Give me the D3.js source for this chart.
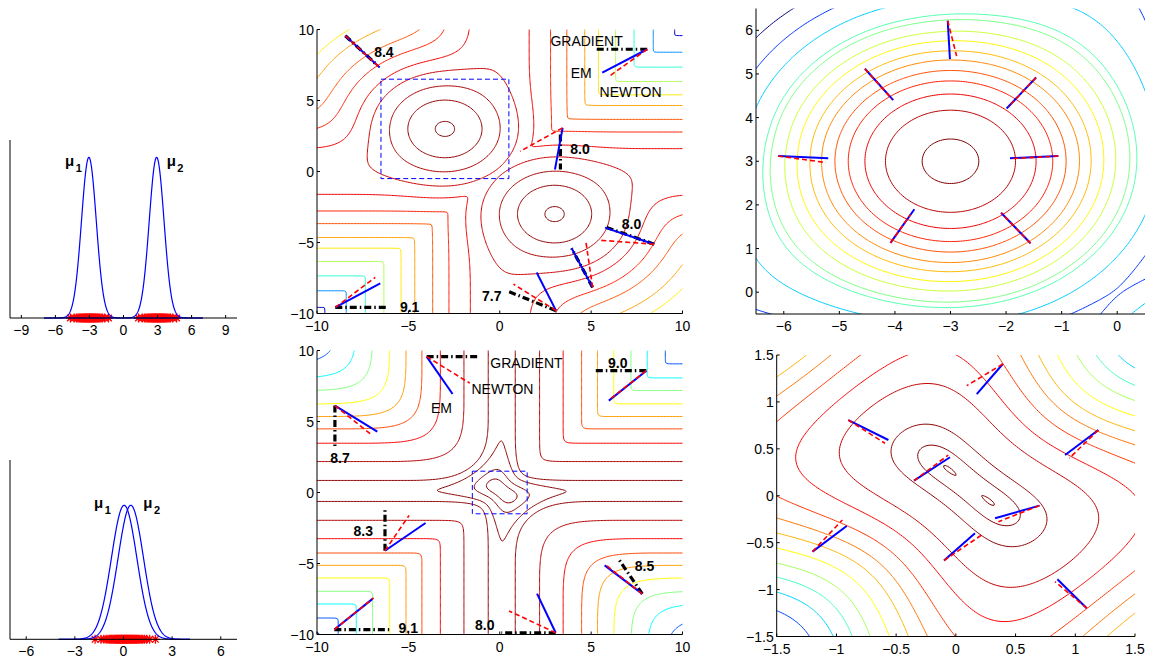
<!DOCTYPE html>
<html>
<head>
<meta charset="utf-8">
<script src="https://cdn.jsdelivr.net/npm/d3@7"></script>
<style>
  body { margin: 0; background: #fff; }
  svg { font-family: "Liberation Sans", Arial, sans-serif; }
</style>
</head>
<body>
<svg id="fig" width="1151" height="660"></svg>
<script>
// ---- data ----
const topData = [-4.68,-4.34,-4.15,-4.02,-3.91,-3.82,-3.74,-3.67,-3.60,-3.54,-3.48,-3.42,-3.37,-3.31,-3.26,-3.21,-3.17,-3.12,-3.07,-3.02,
  -2.98,-2.93,-2.88,-2.83,-2.79,-2.74,-2.69,-2.63,-2.58,-2.52,-2.46,-2.40,-2.33,-2.26,-2.18,-2.09,-1.98,-1.85,-1.66,-1.32,
  1.32,1.66,1.85,1.98,2.09,2.18,2.26,2.33,2.40,2.46,2.52,2.58,2.63,2.69,2.74,2.79,2.83,2.88,2.93,2.98,
  3.02,3.07,3.12,3.17,3.21,3.26,3.31,3.37,3.42,3.48,3.54,3.60,3.67,3.74,3.82,3.91,4.02,4.15,4.34,4.68];
const bottomData = [-1.75,-1.39,-1.21,-1.07,-0.96,-0.87,-0.79,-0.72,-0.65,-0.59,-0.53,-0.48,-0.43,-0.38,-0.33,-0.29,-0.24,-0.20,-0.16,-0.11,
  -0.07,-0.03,0.01,0.05,0.09,0.13,0.17,0.21,0.25,0.29,0.33,0.38,0.42,0.46,0.51,0.55,0.60,0.65,0.70,0.75,
  0.81,0.87,0.94,1.01,1.09,1.18,1.29,1.43,1.61,1.97];
const topMeans = [-3.05, 2.92];
const bottomMeans = [0.04, 0.45];
const topSigma = 0.65;
const bottomSigma = 0.785;
const bottomSplit = 0.16;        // sets the width of the lower-panel likelihood: sqrt(var - split^2)
const topCurveRange = [-7, 7];
const bottomCurveRange = [-4, 4.1];

const topDensTicks = [-9, -6, -3, 0, 3, 6, 9];
const bottomDensTicks = [-6, -3, 0, 3, 6];
const wideTicks = [-10, -5, 0, 5, 10];
const trXTicks = [-6, -5, -4, -3, -2, -1, 0];
const trYTicks = [0, 1, 2, 3, 4, 5, 6];
const brTicks = [-1.5, -1, -0.5, 0, 0.5, 1, 1.5];

// points (mu1, mu2) through which a contour line passes
const tmAnchors = [[-3.53,3],[-5.03,3],[-6.03,3],[-7.09,3],[-9.95,-1.61],[-9.95,-2.78],[-9.95,-3.67],[-9.95,-4.65],
  [-9.95,-5.40],[-9.95,-6.34],[-9.95,-7.35],[-9.95,-8.40],[-9.95,-9.57]];
const trAnchors = [[-3.51,3],[-4.17,3],[-4.54,3],[-4.84,3],[-5.08,3],[-5.32,3],[-5.53,3],[-5.76,3],[-5.98,3],[-6.24,3],
  [-3,6.37],[-4.36,6.45],[-5.20,6.45],[-5.89,6.45]];
const bmAnchors = [[-0.73,0.50],[-1.37,0.545],[-3.3,0.05],[-9.9,0.85],[-9.9,-1.96],[-9.9,-3.25],[-9.9,-4.26],[-9.9,-5.13],
  [-9.9,-6.02],[-9.9,-6.96],[-9.9,-7.85],[-9.9,-8.84],[-9.93,-9.9]];
const brAnchors = [[-0.095,0.29],[-0.30,0.346],[-0.543,0.47],[-0.976,0.47],[-1.338,0.363],[-1.49,-0.01],[-1.49,-0.24],
  [-1.49,-0.40],[-1.49,-0.56],[-1.49,-0.72],[-1.49,-0.87],[-1.49,-1.03],[-1.49,-1.23]];

// direction segments [mu1 start, mu2 start, mu1 end, mu2 end]
const tmGradient = [[-8.45,9.56,-6.8,7.6],[8.07,8.61,5.15,8.61],[3.32,2.6,3.32,0.14],[8.45,-5.12,5.76,-3.9],
  [5.08,-8.16,3.93,-5.40],[3.08,-9.80,0.38,-8.40],[-9.0,-9.57,-6.08,-9.57]];
const tmEM = [[-8.45,9.56,-6.57,7.32],[8.07,8.61,5.61,6.97],[3.44,3.07,3.02,0.14],[8.45,-5.12,5.76,-3.95],
  [5.08,-8.16,3.93,-5.40],[3.08,-9.80,2.02,-7.11],[-9.0,-9.57,-6.54,-7.88]];
const tmNewton = [[-8.45,9.56,-6.6,7.35],[8.07,8.61,5.97,6.69],[3.44,3.07,1.11,1.42],[8.45,-5.12,5.48,-4.84],
  [5.08,-8.16,4.72,-5.0],[3.08,-9.80,0.75,-7.93],[-9.0,-9.57,-6.81,-7.46]];
const tmValues = [["8.4",-6.34,8.44],["8.0",4.39,1.61],["8.0",7.21,-3.72],["7.7",-0.44,-8.75],["9.1",-4.93,-9.57]];
const tmNames = [["GRADIENT",4.75,9.19],["EM",4.46,6.93],["NEWTON",7.16,5.59]];

const bmGradient = [[-4.0,9.57,-1.09,9.57],[8.02,8.58,5.10,8.58],[-9.02,6.12,-9.02,3.24],[-6.28,-4.10,-6.28,-1.16],
  [7.80,-7.14,6.46,-4.61],[-9.05,-9.65,-6.05,-9.65],[3.06,-9.88,0.09,-9.88]];
const bmEM = [[-4.0,9.57,-2.58,6.94],[8.02,8.58,5.97,6.47],[-9.02,6.12,-6.70,4.29],[-6.28,-4.10,-4.06,-2.15],
  [7.80,-7.14,5.74,-5.13],[-9.05,-9.65,-6.96,-7.49],[3.06,-9.88,2.04,-7.12]];
const bmNewton = [[-4.0,9.57,-1.64,7.70],[8.02,8.58,6.10,6.64],[-9.02,6.12,-7.01,4.06],[-6.28,-4.10,-4.96,-1.61],
  [7.80,-7.14,5.80,-5.10],[-9.05,-9.65,-6.9,-7.42],[3.06,-9.88,0.51,-8.34]];
const bmValues = [["9.0",6.46,9.10],["8.7",-8.74,2.42],["8.3",-7.47,-2.74],["8.5",7.92,-5.20],["9.1",-5.01,-9.53],["8.0",-0.82,-9.30]];
const bmNames = [["GRADIENT",1.46,9.15],["NEWTON",0.15,7.28],["EM",-3.19,5.94]];

const trEM = [[-3.05,6.22,-3.01,5.34],[-4.54,5.12,-4.03,4.40],[-1.46,4.92,-1.99,4.21],[-6.10,3.12,-5.2,3.07],
  [-1.06,3.12,-1.93,3.07],[-4.08,1.13,-3.65,1.90],[-1.56,1.12,-2.09,1.82]];
const trNewton = [[-3.05,6.22,-2.89,5.41],[-4.54,5.12,-4.05,4.42],[-1.46,4.92,-1.96,4.24],[-6.10,3.12,-5.24,2.97],
  [-1.06,3.12,-1.90,3.06],[-4.08,1.13,-3.72,1.78],[-1.56,1.12,-2.09,1.82]];
const brEM = [[0.393,1.404,0.175,1.084],[-0.90,0.807,-0.565,0.594],[-0.35,0.161,-0.049,0.41],[1.193,0.70,0.915,0.434],
  [0.70,-0.105,0.328,-0.24],[-1.2,-0.595,-0.914,-0.322],[-0.099,-0.69,0.16,-0.40],[1.096,-1.198,0.85,-0.89]];
const brNewton = [[0.393,1.404,0.091,1.173],[-0.90,0.807,-0.593,0.559],[-0.35,0.161,-0.063,0.434],[1.193,0.70,0.95,0.40],
  [0.70,-0.105,0.356,-0.276],[-1.2,-0.595,-0.95,-0.258],[-0.099,-0.69,0.217,-0.417],[1.096,-1.198,0.83,-0.915]];

// ---- helpers ----
const svg = d3.select("#fig");
const fmt = v => String(v).replace("-", "\u2212");

function jet(t) {
  t = Math.max(0, Math.min(1, t));
  const c = v => Math.round(255 * Math.max(0, Math.min(1, v)));
  return `rgb(${c(1.5 - Math.abs(4 * t - 3))},${c(1.5 - Math.abs(4 * t - 2))},${c(1.5 - Math.abs(4 * t - 1))})`;
}

// mean log-likelihood of a two-component, equal-weight 1-D mixture
function logLik(data, sigma) {
  const s2 = 2 * sigma * sigma;
  return (m1, m2) => {
    let sum = 0;
    for (const x of data) {
      const a = -(x - m1) * (x - m1) / s2, b = -(x - m2) * (x - m2) / s2;
      const m = Math.max(a, b);
      sum += m + Math.log(Math.exp(a - m) + Math.exp(b - m));
    }
    return sum / data.length;
  };
}

function axes(g, xs, ys, xTicks, yTicks, showYLine) {
  const [xa, xb] = xs.range();
  const [yb, ya] = ys.range();
  g.append("line").attr("x1", xa).attr("x2", xb).attr("y1", yb).attr("y2", yb).attr("stroke", "#000");
  if (showYLine) g.append("line").attr("x1", xa).attr("x2", xa).attr("y1", yb).attr("y2", ya).attr("stroke", "#000");
  g.selectAll(null).data(xTicks).enter().append("line")
    .attr("x1", d => xs(d)).attr("x2", d => xs(d)).attr("y1", yb).attr("y2", yb - 3).attr("stroke", "#000");
  g.selectAll(null).data(xTicks).enter().append("text")
    .attr("x", d => xs(d)).attr("y", yb + 17).attr("text-anchor", "middle")
    .attr("font-size", 14).text(fmt);
  g.selectAll(null).data(yTicks).enter().append("line")
    .attr("x1", xa).attr("x2", xa + 3).attr("y1", d => ys(d)).attr("y2", d => ys(d)).attr("stroke", "#000");
  g.selectAll(null).data(yTicks).enter().append("text")
    .attr("x", xa - 3).attr("y", d => ys(d) + 5).attr("text-anchor", "end")
    .attr("font-size", 14).text(fmt);
}

function segments(g, xs, ys, segs, color, width, dash) {
  g.selectAll(null).data(segs).enter().append("line")
    .attr("x1", d => xs(d[0])).attr("y1", d => ys(d[1]))
    .attr("x2", d => xs(d[2])).attr("y2", d => ys(d[3]))
    .attr("stroke", color).attr("stroke-width", width)
    .attr("stroke-dasharray", dash);
}

let clipId = 0;
function contourPanel(o) {
  const xs = d3.scaleLinear().domain(o.xDomain).range(o.xRange);
  const ys = d3.scaleLinear().domain(o.yDomain).range(o.yRange);
  const g = svg.append("g");
  const step = o.step;
  const gx0 = o.xDomain[0] - 2 * step, gy0 = o.yDomain[0] - 2 * step;
  const nx = Math.ceil((o.xDomain[1] - o.xDomain[0]) / step) + 5;
  const ny = Math.ceil((o.yDomain[1] - o.yDomain[0]) / step) + 5;
  const N = nx + 2, M = ny + 2;
  const values = new Array(N * M).fill(-1e9);
  let vmin = Infinity, vmax = -Infinity;
  for (let j = 0; j < ny; j++) {
    for (let i = 0; i < nx; i++) {
      const mx = gx0 + i * step, my = gy0 + j * step;
      const v = o.f(mx, my);
      values[(j + 1) * N + i + 1] = v;
      if (mx >= o.xDomain[0] && mx <= o.xDomain[1] && my >= o.yDomain[0] && my <= o.yDomain[1]) {
        if (v < vmin) vmin = v;
        if (v > vmax) vmax = v;
      }
    }
  }
  const levels = o.anchors.map(p => o.f(p[0], p[1]));
  if (o.levelColors) { vmin = d3.min(levels); vmax = d3.max(levels); }
  const rings = d3.contours().size([N, M]).thresholds(levels)(values);
  const proj = d3.geoTransform({
    point(px, py) { this.stream.point(xs(gx0 + (px - 1.5) * step), ys(gy0 + (py - 1.5) * step)); }
  });
  const path = d3.geoPath(proj);
  const id = "clip" + (clipId++);
  svg.append("clipPath").attr("id", id).append("rect")
    .attr("x", o.xRange[0]).attr("y", o.yRange[1])
    .attr("width", o.xRange[1] - o.xRange[0]).attr("height", o.yRange[0] - o.yRange[1]);
  g.append("g").attr("clip-path", `url(#${id})`)
    .selectAll("path").data(rings).enter().append("path")
    .attr("d", path).attr("fill", "none")
    .attr("stroke", d => jet((d.value - vmin) / (vmax - vmin)))
    .attr("stroke-width", 1);
  return { g, xs, ys };
}

function densityPanel(o) {
  const xs = d3.scaleLinear().domain(o.xDomain).range(o.xRange);
  const ys = d3.scaleLinear().domain([0, 0.68]).range(o.yRange);
  const g = svg.append("g");
  const xsVals = d3.range(o.curveRange[0], o.curveRange[1] + 1e-9, 0.02);
  const pdf = (x, m) => Math.exp(-(x - m) * (x - m) / (2 * o.sigma * o.sigma)) / (o.sigma * Math.sqrt(2 * Math.PI));
  const line = d3.line().x(d => xs(d[0])).y(d => ys(d[1]));
  g.selectAll(null).data(o.data).enter().append("path")
    .attr("transform", d => `translate(${xs(d)},${ys(0)})`)
    .attr("d", "M-4.5,0H4.5M0,-4.5V4.5M-3.3,-3.3L3.3,3.3M-3.3,3.3L3.3,-3.3")
    .attr("stroke", "#ff0000").attr("stroke-width", 1.3).attr("fill", "none");
  o.means.forEach(m => {
    g.append("path").attr("d", line(xsVals.map(x => [x, pdf(x, m)])))
      .attr("fill", "none").attr("stroke", "#0000ff").attr("stroke-width", 1.2);
  });
  o.labels.forEach(([sub, lx, ly]) => {
    const t = g.append("text").attr("x", xs(lx)).attr("y", ys(ly))
      .attr("font-size", 15).attr("font-weight", "bold").text("\u03bc");
    t.append("tspan").attr("dx", 1.5).attr("dy", 6).attr("font-size", 11).text(sub);
  });
  axes(g, xs, ys, o.ticks, [], true);
}

function annotate(p, grad, em, newton, values, names) {
  if (grad) segments(p.g, p.xs, p.ys, grad, "#000", 3.2, "7,3,1.5,3");
  segments(p.g, p.xs, p.ys, em, "#0000ff", 2, null);
  segments(p.g, p.xs, p.ys, newton, "#ff0000", 1.6, "5,3");
  (values || []).forEach(([t, x, y]) => p.g.append("text").attr("x", p.xs(x)).attr("y", p.ys(y) + 5)
    .attr("text-anchor", "middle").attr("font-size", 14).attr("font-weight", "bold").text(t));
  (names || []).forEach(([t, x, y]) => p.g.append("text").attr("x", p.xs(x)).attr("y", p.ys(y) + 5)
    .attr("text-anchor", "middle").attr("font-size", 14).text(t));
}

function dashedBox(p, x0, x1, y0, y1) {
  p.g.append("rect").attr("x", p.xs(x0)).attr("y", p.ys(y1))
    .attr("width", p.xs(x1) - p.xs(x0)).attr("height", p.ys(y0) - p.ys(y1))
    .attr("fill", "none").attr("stroke", "#0000ff").attr("stroke-dasharray", "5,3");
}

// ---- likelihood surfaces ----
const fTop = logLik(topData, topSigma);
const bMean = d3.mean(bottomData);
const bVar = d3.mean(bottomData, d => (d - bMean) * (d - bMean));
const fBottom = logLik(bottomData, Math.sqrt(bVar - bottomSplit * bottomSplit));

// ---- left column ----
densityPanel({ xDomain: [-10, 10], xRange: [10, 237], yRange: [318, 140], means: topMeans, sigma: topSigma,
  curveRange: topCurveRange, data: topData, ticks: topDensTicks, labels: [["1", -5.15, 0.58], ["2", 3.8, 0.58]] });
densityPanel({ xDomain: [-7, 7], xRange: [10, 237], yRange: [639.3, 460], means: bottomMeans, sigma: bottomSigma,
  curveRange: bottomCurveRange, data: bottomData, ticks: bottomDensTicks, labels: [["1", -1.82, 0.498], ["2", 1.22, 0.498]] });

// ---- middle column ----
const tm = contourPanel({ xDomain: [-10, 10], yDomain: [-10, 10], xRange: [317, 682.5], yRange: [313.5, 29.5],
  f: fTop, anchors: tmAnchors, step: 0.08 });
dashedBox(tm, -6.5, 0.5, -0.5, 6.5);
annotate(tm, tmGradient, tmEM, tmNewton, tmValues, tmNames);
axes(tm.g, tm.xs, tm.ys, wideTicks, wideTicks, true);

const bm = contourPanel({ xDomain: [-10, 10], yDomain: [-10, 10], xRange: [317, 682.5], yRange: [634.5, 350.5],
  f: fBottom, anchors: bmAnchors, step: 0.08 });
dashedBox(bm, -1.5, 1.5, -1.5, 1.5);
annotate(bm, bmGradient, bmEM, bmNewton, bmValues, bmNames);
axes(bm.g, bm.xs, bm.ys, wideTicks, wideTicks, true);

// ---- right column ----
const tr = contourPanel({ xDomain: [-6.5, 0.5], yDomain: [-0.5, 6.5], xRange: [756, 1145], yRange: [314, 8.5],
  f: fTop, anchors: trAnchors, step: 0.04, levelColors: true });
annotate(tr, null, trEM, trNewton);
axes(tr.g, tr.xs, tr.ys, trXTicks, trYTicks, true);

const br = contourPanel({ xDomain: [-1.5, 1.5], yDomain: [-1.5, 1.5], xRange: [776.7, 1135], yRange: [636.5, 355],
  f: fBottom, anchors: brAnchors, step: 0.017 });
annotate(br, null, brEM, brNewton);
axes(br.g, br.xs, br.ys, brTicks, brTicks, true);
</script>
</body>
</html>
